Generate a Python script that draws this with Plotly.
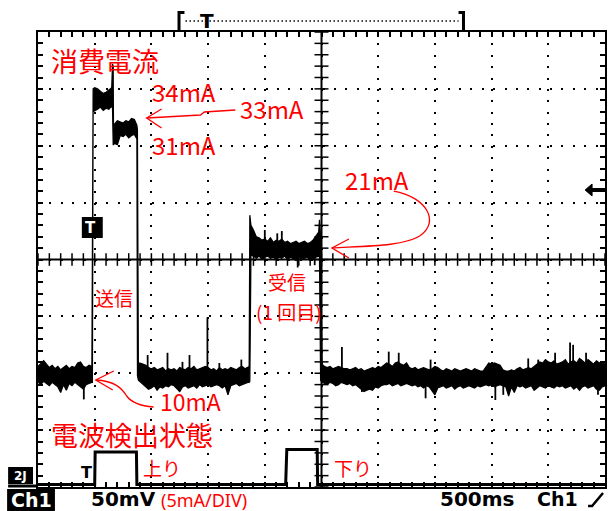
import numpy as np
import plotly.graph_objects as go

# ---------------- DATA ----------------
SAMPLE_MS = 25  # oscilloscope sample clock used for the envelope lists

# Ch1 supply current (mA): upper / lower edge of the noisy trace, per segment
seg_start_ms = [0, 500, 675, 900, 1900, 2525]
seg_hi = [
    [10.6, 10.9, 11.1, 10.8, 10.5, 10.7, 10.4, 10.6, 10.3, 10.5, 10.7, 10.4, 10.6, 10.5, 10.9, 11.0, 10.6, 10.5, 10.7, 10.6],
    [35.1, 35.0, 34.8, 34.6, 34.7, 34.9, 35.1],
    [31.9, 32.2, 32.1, 32.0, 32.2, 32.1, 32.4, 32.3],
    [10.9, 10.8, 10.7, 10.5, 10.4, 10.5, 10.3, 10.4, 10.5, 10.2, 10.4, 10.3, 10.4, 10.2, 10.5, 10.4, 10.3, 10.5, 10.4, 10.6,
     10.3, 10.4, 10.5, 10.6, 10.5, 10.3, 10.4, 10.2, 10.5, 10.3, 10.4, 10.3, 10.5, 10.4, 10.3, 10.5, 10.6, 10.4, 10.5],
    [22.6, 22.0, 21.9, 21.7, 21.8, 21.6, 21.9, 21.5, 21.7, 21.6, 21.8, 21.5, 21.6, 21.4, 21.5, 21.6, 21.4, 21.5, 21.6, 21.4,
     21.5, 21.7, 22.0, 22.4],
    [10.6, 10.5, 10.6, 10.4, 10.5, 10.6, 10.5, 10.4,
     10.4, 10.3, 10.4, 10.5, 10.3, 10.4, 10.2, 10.3,
     10.4, 10.5, 10.4, 10.6, 10.5, 10.7,
     10.9, 10.8, 10.6, 10.9, 11.0, 10.8, 10.7, 10.9,
     10.5, 10.4, 10.5, 10.3, 10.4, 10.5, 10.4, 10.3, 10.4, 10.6, 10.5,
     10.3, 10.2, 10.4, 10.3, 10.2, 10.4, 10.3, 10.2, 10.3, 10.4, 10.3, 10.2, 10.4, 10.3, 10.2,
     10.2, 10.6, 10.9, 10.8, 10.9, 10.8, 10.7, 10.3, 10.2,
     10.2, 10.3, 10.2, 10.4, 10.5, 10.3, 10.4, 10.5, 10.4,
     10.6, 10.8, 11.0, 10.9, 11.2, 11.0, 10.9, 11.1, 10.8,
     10.9, 11.0, 11.2, 10.8, 11.0, 11.1, 10.9, 11.3, 11.1, 10.9, 11.2, 11.0, 10.8, 11.1, 10.9, 11.0, 10.8],
]
seg_lo = [
    [9.2, 9.0, 9.3, 9.1, 8.9, 9.2, 9.0, 8.8, 8.3, 9.0, 8.5, 9.1, 8.9, 9.2, 9.0, 8.8, 8.6, 9.0, 9.1, 9.2],
    [33.1, 33.2, 33.4, 33.1, 33.3, 33.2, 33.5],
    [30.2, 30.1, 30.9, 30.8, 31.0, 30.7, 30.9, 31.0],
    [9.2, 9.0, 8.8, 8.6, 8.7, 8.9, 8.5, 8.8, 8.7, 8.9, 8.8, 9.0, 8.9, 8.7, 8.4, 8.8, 8.9, 8.7, 8.8, 8.9,
     8.7, 9.0, 8.8, 8.9, 9.0, 8.8, 8.9, 9.0, 8.9, 8.7, 8.9, 8.1, 8.9, 9.0, 9.1, 8.9, 9.0, 9.1, 9.2],
    [20.3, 20.1, 20.3, 20.0, 20.2, 20.3, 20.1, 20.2, 20.0, 20.2, 20.1, 20.3, 20.0, 20.2, 20.1, 19.9, 20.2, 20.0, 20.1, 20.2,
     19.9, 20.1, 20.2, 20.3],
    [9.1, 9.0, 9.2, 9.1, 8.9, 9.0, 9.2, 9.1,
     9.0, 9.1, 8.9, 9.0, 8.8, 8.6, 8.4, 8.5,
     8.6, 8.5, 8.8, 8.7, 8.9, 9.0,
     9.0, 9.1, 8.9, 9.0, 9.1, 8.9, 9.0, 9.1,
     9.0, 8.9, 9.0, 8.8, 8.9, 8.7, 8.9, 8.8, 8.5, 8.1, 8.7,
     8.8, 8.9, 8.7, 8.8, 8.9, 8.6, 8.8, 8.9, 8.7, 8.8, 8.9, 8.8, 8.7, 8.9, 8.8,
     8.9, 9.0, 8.9, 9.0, 8.8, 8.9, 9.0, 8.9, 8.8,
     8.0, 8.8, 8.3, 8.9, 8.8, 8.9, 8.7, 8.8, 8.9,
     8.5, 8.7, 8.9, 8.8, 8.7, 8.9, 8.8, 8.7, 8.9,
     8.8, 8.9, 8.7, 8.8, 8.9, 8.6, 8.8, 8.5, 8.8, 8.9, 8.7, 8.8, 8.9, 8.6, 8.5, 8.8, 8.9],
]
# transitions between the segments (ms, upper mA, lower mA)
edge_t = [[480, 486], [657, 663, 666], [872, 877, 885], [1862, 1868, 1878], [2482, 2492, 2505]]
edge_hi = [[34.8, 35.0], [37.2, 37.0, 31.6], [31.8, 31.4, 10.9], [10.6, 23.9, 23.0], [23.5, 22.0, 10.8]]
edge_lo = [[9.2, 33.0], [33.3, 30.1, 30.1], [30.6, 9.8, 9.4], [9.2, 9.3, 20.4], [20.3, 9.4, 9.2]]

# isolated noise spikes (ms, mA)
spike_t = [404, 967, 1142, 1248, 1274, 1336, 1494, 1599, 1793, 2000, 2110, 2150, 2290, 2440,
           2680, 2856, 3093, 3181, 3418, 3462, 4033, 4103, 4323, 4411, 4560, 4692, 4719, 4789, 4833, 4912, 4938]
spike_mA = [7.7, 11.6, 11.8, 8.4, 11.0, 11.6, 14.9, 10.9, 11.2, 22.6, 22.3, 22.5, 19.3, 19.5,
            12.3, 8.35, 11.9, 11.8, 7.8, 11.2, 7.65, 8.1, 11.3, 11.2, 11.8, 12.7, 12.5, 11.2, 11.8, 11.0, 8.1]

# Ch2: radio detection state (logic level)
ch2_t = [0, 500, 504, 868, 872, 2184, 2194, 2462, 2466, 5000]
ch2_state = [0, 0, 1, 1, 0, 0, 1.08, 1.08, 0, 0]

# ---------------- BUILD ----------------
t_all, hi_all, lo_all = [], [], []
for k in range(len(seg_start_ms)):
    n = len(seg_hi[k])
    t_all += [seg_start_ms[k] + SAMPLE_MS * i for i in range(n)]
    hi_all += seg_hi[k]
    lo_all += seg_lo[k]
    if k < len(edge_t):
        t_all += edge_t[k]
        hi_all += edge_hi[k]
        lo_all += edge_lo[k]

t_arr = np.array(t_all, float)
mid = (np.array(hi_all) + np.array(lo_all)) / 2
sx, sy = [], []
for t, v in zip(spike_t, spike_mA):
    sx += [t, t, None]
    sy += [float(np.interp(t, t_arr, mid)), v, None]

# pixel geometry helpers (for decorations / labels only)
PX_L, PX_T, PW, PH = 38, 32, 569, 455
def fx(x): return (x - PX_L) / PW
def fy(y): return (PX_T + PH - y) / PH
def pt(x, y): return f"{fx(x):.4f},{fy(y):.4f}"

fig = go.Figure()
fig.add_trace(go.Scatter(x=t_all + t_all[::-1], y=hi_all + lo_all[::-1], fill='toself',
                         fillcolor='black', mode='lines', line=dict(color='black', width=1.2),
                         hoverinfo='skip'))
fig.add_trace(go.Scatter(x=sx, y=sy, mode='lines', line=dict(color='black', width=1.8), hoverinfo='skip'))

# ch2 on its own hidden axis: state 0 -> px 484.5, state 1 -> px 452
lo_frac, hi_frac = fy(484.5), fy(452)
span = 1.0 / (hi_frac - lo_frac)
y2min = -lo_frac * span
fig.add_trace(go.Scatter(x=ch2_t, y=ch2_state, yaxis='y2', mode='lines',
                         line=dict(color='black', width=3), hoverinfo='skip'))

# centre cross ticks
fig.add_trace(go.Scatter(x=[k * 100 for k in range(51)], y=[20] * 51, mode='markers',
                         marker=dict(symbol='line-ns', size=9, line=dict(color='black', width=1.5)),
                         hoverinfo='skip'))
fig.add_trace(go.Scatter(x=[2500] * 41, y=list(range(41)), mode='markers',
                         marker=dict(symbol='line-ew', size=10, line=dict(color='black', width=1.5)),
                         hoverinfo='skip'))

axis_common = dict(showgrid=True, gridcolor='black', gridwidth=2, griddash='2px,9.38px',
                   showline=True, linecolor='black', linewidth=2, mirror='ticks',
                   ticks='inside', ticklen=5, tickwidth=1.5, tickcolor='black',
                   showticklabels=False, zeroline=False, fixedrange=True)
fig.update_layout(
    width=608, height=511, margin=dict(l=38, r=1, t=32, b=24),
    paper_bgcolor='white', plot_bgcolor='white', showlegend=False,
    xaxis=dict(range=[0, 5000], tick0=0, dtick=500,
               minor=dict(dtick=100, ticks='inside', ticklen=5, tickwidth=1.5, tickcolor='black', showgrid=False),
               **axis_common),
    yaxis=dict(range=[0, 40], tick0=0, dtick=5,
               minor=dict(dtick=1, ticks='inside', ticklen=5, tickwidth=1.5, tickcolor='black', showgrid=False),
               **axis_common),
    yaxis2=dict(overlaying='y', range=[y2min, y2min + span], visible=False, fixedrange=True),
)

shapes = []
# centre lines
shapes.append(dict(type='line', xref='x', yref='paper', x0=2500, x1=2500, y0=0, y1=1,
                   line=dict(color='black', width=2)))
shapes.append(dict(type='line', xref='paper', yref='y', x0=0, x1=1, y0=20, y1=20,
                   line=dict(color='black', width=2)))
# bottom line extension to the left
shapes.append(dict(type='line', xref='paper', yref='paper', x0=fx(8), x1=fx(38), y0=fy(486), y1=fy(486),
                   line=dict(color='black', width=3)))
# top trigger bracket
shapes.append(dict(type='path', xref='paper', yref='paper',
                   path=f"M {pt(185,12.5)} L {pt(179.5,12.5)} L {pt(179.5,32)}",
                   line=dict(color='black', width=3)))
shapes.append(dict(type='path', xref='paper', yref='paper',
                   path=f"M {pt(460,12.5)} L {pt(465,12.5)} L {pt(465,32)}",
                   line=dict(color='black', width=3)))
shapes.append(dict(type='line', xref='paper', yref='paper', x0=fx(186), x1=fx(460), y0=fy(21), y1=fy(21),
                   line=dict(color='black', width=1.5, dash='1.5px,2.5px')))
# trigger level marker on the right
shapes.append(dict(type='path', xref='paper', yref='paper',
                   path=f"M {pt(587,190)} L {pt(594,184)} L {pt(594,196)} Z",
                   fillcolor='black', line=dict(color='black', width=1)))
shapes.append(dict(type='line', xref='paper', yref='paper', x0=fx(593), x1=fx(607), y0=fy(190), y1=fy(190),
                   line=dict(color='black', width=4)))
# ch1 trigger box
shapes.append(dict(type='rect', xref='paper', yref='paper', x0=fx(82), x1=fx(103), y0=fy(238), y1=fy(217),
                   fillcolor='black', line=dict(color='black', width=0)))
# ch2 icon box and Ch1 label box
shapes.append(dict(type='rect', xref='paper', yref='paper', x0=fx(8), x1=fx(33), y0=fy(484), y1=fy(467),
                   fillcolor='black', line=dict(width=0)))
shapes.append(dict(type='rect', xref='paper', yref='paper', x0=fx(7), x1=fx(55), y0=fy(511), y1=fy(489),
                   fillcolor='black', line=dict(width=0)))
# red hand-drawn arrows
red = '#ff0000'
for p in [
    f"M {pt(236,110)} L {pt(205,112)} L {pt(201,115)} L {pt(147,118)}",
    f"M {pt(162,109)} L {pt(147,118)} L {pt(162,128)}",
    f"M {pt(395,191)} C {pt(428,197)} {pt(442,222)} {pt(421,236)} C {pt(405,246)} {pt(370,246)} {pt(333,248)}",
    f"M {pt(350,239)} L {pt(333,248)} L {pt(350,258)}",
    f"M {pt(96,380)} C {pt(115,381)} {pt(122,388)} {pt(127,396)} C {pt(132,403)} {pt(142,406)} {pt(154,407)}",
    f"M {pt(114,371)} L {pt(96,380)} L {pt(113,390)}",
]:
    shapes.append(dict(type='path', xref='paper', yref='paper', path=p, line=dict(color=red, width=1.3)))

annotations = []
def txt(s, x, y, size, color=red, family='Noto Sans CJK JP', weight='normal'):
    annotations.append(dict(text=s, x=fx(x), y=fy(y), xref='paper', yref='paper', showarrow=False,
                            xanchor='center', yanchor='middle',
                            font=dict(size=size, color=color, family=family, weight=weight)))

txt('消費電流', 105, 60, 27)
txt('34mA', 185, 91, 24)
txt('33mA', 273, 109, 24)
txt('31mA', 185, 144, 24)
txt('21mA', 378, 180, 24)
txt('送信', 114, 298, 19)
txt('受信', 288, 281, 19)
txt('(1 回目)', 290, 311, 19)
txt('10mA', 191, 401, 23)
txt('電波検出状態', 132, 434, 27)
txt('上り', 162, 467, 19)
txt('下り', 354, 467, 19)
txt('(5mA/DIV)', 205, 500, 18, family='Noto Sans')
B = 'DejaVu Sans'
txt('50mV', 124, 499, 20, color='black', family=B, weight='bold')
txt('500ms', 479, 499, 20, color='black', family=B, weight='bold')
txt('Ch1', 559, 499, 19, color='black', family=B, weight='bold')
txt('Ch1', 31, 500, 19, color='white', family=B, weight='bold')
txt('T', 208, 21, 20, color='black', family=B, weight='bold')
txt('T', 91, 228, 15, color='white', family=B, weight='bold')
txt('T', 87, 472, 16, color='black', family=B, weight='bold')
txt('2J', 20.5, 476, 12, color='white', family=B, weight='bold')

# rising-edge trigger symbol
shapes.append(dict(type='path', xref='paper', yref='paper',
                   path=f"M {pt(590,506)} L {pt(594,506)} L {pt(605,493)}",
                   line=dict(color='black', width=2.5)))

fig.update_layout(shapes=shapes, annotations=annotations)
fig.write_html("out.html", config={'displayModeBar': False},
               post_script="document.body.style.margin='0';document.body.style.overflow='hidden';")
